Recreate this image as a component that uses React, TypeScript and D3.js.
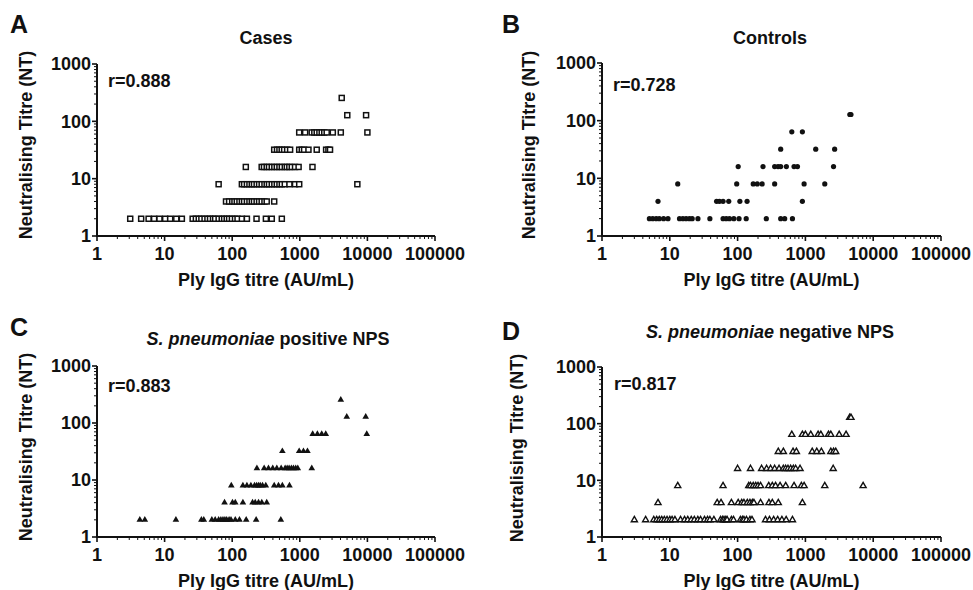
import React from "react";
import * as d3 from "d3";

// ---- data (Ply IgG titre AU/mL, Neutralising titre) ----
const xTickLabels = ["1", "10", "100", "1000", "10000", "100000"];
const yTickLabels = ["1", "10", "100", "1000"];

const casesPoints: [number, number][] = [
  ...[3.1, 4.5, 5.8, 7.0, 8.4, 10.2, 12.1, 14.9, 18, 26, 29, 32, 35, 39, 43, 47, 52, 56, 63, 70, 76, 83, 90, 99, 110, 120, 139, 165, 229, 315, 385, 542].map((x) => [x, 2] as [number, number]),
  ...[81, 90, 100, 108, 117, 128, 139, 150, 165, 180, 195, 210, 230, 250, 273, 300, 324, 418].map((x) => [x, 4] as [number, number]),
  ...[63, 139, 150, 165, 180, 195, 210, 230, 250, 273, 300, 324, 350, 385, 420, 457, 500, 542, 600, 703, 850, 980, 7100].map((x) => [x, 8] as [number, number]),
  ...[159, 273, 295, 324, 350, 385, 420, 457, 500, 542, 600, 643, 700, 761, 850, 960, 1540].map((x) => [x, 16] as [number, number]),
  ...[418, 460, 500, 540, 587, 650, 719, 980, 1070, 1158, 1343, 1780, 2450, 2650, 2800].map((x) => [x, 32] as [number, number]),
  ...[980, 1200, 1500, 1640, 1780, 1950, 2110, 2300, 2500, 3080, 4040, 10000].map((x) => [x, 64] as [number, number]),
  [5040, 128], [9560, 128],
  [4170, 256],
];

const controlsPoints: [number, number][] = [
  ...[5.0, 5.6, 6.3, 7.0, 8.1, 9.4, 13.9, 15.6, 17.4, 19.5, 21.4, 26, 39, 61, 68, 76, 88, 105, 134, 265, 432, 495, 644].map((x) => [x, 2] as [number, number]),
  ...[6.7, 49, 54, 61, 74, 108, 138, 903].map((x) => [x, 4] as [number, number]),
  ...[13.1, 97, 170, 195, 230, 352, 957, 1930].map((x) => [x, 8] as [number, number]),
  ...[102, 237, 352, 395, 432, 524, 680, 764, 2600].map((x) => [x, 16] as [number, number]),
  ...[432, 1420, 2700].map((x) => [x, 32] as [number, number]),
  ...[630, 903].map((x) => [x, 64] as [number, number]),
  [4520, 128], [4700, 128],
];

const positivePoints: [number, number][] = [
  ...[4.3, 5.1, 14.7, 35, 38, 50, 56, 63, 68, 73, 78, 83, 90, 96, 111, 128, 161, 226, 524].map((x) => [x, 2] as [number, number]),
  ...[77, 101, 111, 144, 200, 219, 245, 274, 324].map((x) => [x, 4] as [number, number]),
  ...[97, 144, 165, 189, 214, 230, 245, 260, 281, 314, 418, 484, 552, 703].map((x) => [x, 8] as [number, number]),
  ...[232, 297, 344, 398, 457, 530, 607, 650, 695, 750, 805, 870, 933, 1503].map((x) => [x, 16] as [number, number]),
  ...[552, 979, 1132, 1298].map((x) => [x, 32] as [number, number]),
  ...[1550, 1820, 2110, 2420, 9780].map((x) => [x, 64] as [number, number]),
  [4950, 128], [9440, 128],
  [4040, 256],
];

const negativePoints: [number, number][] = [
  ...[3.0, 4.4, 5.8, 6.4, 7.0, 7.6, 8.3, 9.1, 10.0, 10.8, 11.9, 14.4, 16.5, 18.4, 20.7, 23, 25.9, 28.4, 32.5, 36, 39, 44.7, 56, 60, 63, 67, 70, 81, 87, 110, 118, 124, 135, 152, 163, 258, 295, 340, 390, 450, 520, 644].map((x) => [x, 2] as [number, number]),
  ...[6.7, 50, 57, 81, 102, 115, 124, 139, 152, 165, 174, 218, 290, 325, 398, 903].map((x) => [x, 4] as [number, number]),
  ...[13.1, 61, 146, 155, 170, 185, 200, 218, 288, 325, 363, 423, 512, 680, 872, 957, 1930, 7100].map((x) => [x, 8] as [number, number]),
  ...[100, 155, 226, 268, 307, 352, 409, 473, 512, 554, 607, 665, 719, 834, 2570].map((x) => [x, 16] as [number, number]),
  ...[398, 473, 657, 736, 1260, 1470, 1720, 2370, 2600, 2800].map((x) => [x, 32] as [number, number]),
  ...[630, 903, 1000, 1200, 1540, 1690, 2190, 2370, 3150, 3980].map((x) => [x, 64] as [number, number]),
  [4500, 128], [4700, 128],
];

const FONT = "'Liberation Sans', Arial, Helvetica, sans-serif";
const INK = "#111";

type MarkerKind = "openSquare" | "dot" | "triangle" | "openTriangle";

interface PanelProps {
  letter: string;
  letterX: number;
  letterY: number;
  title: React.ReactNode;
  titleX: number;
  titleY: number;
  r: string;
  rX: number;
  rY: number;
  left: number;
  right: number;
  top: number;
  bottom: number;
  yTitleX: number;
  yTitleY: number;
  points: [number, number][];
  marker: MarkerKind;
}

function Panel(p: PanelProps) {
  const x = d3.scaleLog().domain([1, 100000]).range([p.left, p.right]);
  const y = d3.scaleLog().domain([1, 1000]).range([p.bottom, p.top]);
  const xMajor = xTickLabels.map(Number);
  const yMajor = yTickLabels.map(Number);
  const xMinor: number[] = [];
  xMajor.slice(0, -1).forEach((d) => { for (let k = 2; k <= 9; k++) xMinor.push(d * k); });
  const yMinor: number[] = [];
  yMajor.slice(0, -1).forEach((d) => { for (let k = 2; k <= 9; k++) yMinor.push(d * k); });

  const tri = d3.symbol().type(d3.symbolTriangle).size(19)() as string;
  const openTri = d3.symbol().type(d3.symbolTriangle).size(16)() as string;

  const renderMarker = (d: [number, number], i: number) => {
    const cx = x(d[0]);
    const cy = y(d[1]);
    switch (p.marker) {
      case "openSquare":
        return <rect key={i} x={cx - 2.5} y={cy - 2.5} width={5} height={5} fill="#fff" stroke={INK} strokeWidth={1.5} />;
      case "dot":
        return <circle key={i} cx={cx} cy={cy} r={2.6} fill={INK} />;
      case "triangle":
        return <path key={i} d={tri} transform={`translate(${cx},${cy})`} fill={INK} />;
      default:
        return <path key={i} d={openTri} transform={`translate(${cx},${cy})`} fill="#fff" stroke={INK} strokeWidth={1.4} />;
    }
  };

  return (
    <g fontFamily={FONT} fontWeight="bold" fill={INK}>
      <text x={p.letterX} y={p.letterY} fontSize={25}>{p.letter}</text>
      <text x={p.titleX} y={p.titleY} fontSize={18} textAnchor="middle">{p.title}</text>
      <text
        transform={`translate(${p.yTitleX},${p.yTitleY}) rotate(-90)`}
        fontSize={18}
        textAnchor="middle"
      >
        Neutralising Titre (NT)
      </text>
      <text x={(p.left + p.right) / 2} y={p.bottom + 50} fontSize={18} textAnchor="middle">
        Ply IgG titre (AU/mL)
      </text>
      <text x={p.rX} y={p.rY} fontSize={18}>{p.r}</text>

      {/* axes */}
      <g stroke={INK} fill="none">
        <line x1={p.left} x2={p.left} y1={p.top} y2={p.bottom + 1} strokeWidth={2} />
        <line x1={p.left - 1} x2={p.right} y1={p.bottom} y2={p.bottom} strokeWidth={2} />
        {yMajor.map((d) => (
          <line key={"ym" + d} x1={p.left - 5} x2={p.left} y1={y(d)} y2={y(d)} strokeWidth={1.6} />
        ))}
        {yMinor.map((d) => (
          <line key={"yn" + d} x1={p.left - 3} x2={p.left} y1={y(d)} y2={y(d)} strokeWidth={1} />
        ))}
        {xMajor.map((d) => (
          <line key={"xm" + d} x1={x(d)} x2={x(d)} y1={p.bottom} y2={p.bottom + 5} strokeWidth={1.6} />
        ))}
        {xMinor.map((d) => (
          <line key={"xn" + d} x1={x(d)} x2={x(d)} y1={p.bottom} y2={p.bottom + 3} strokeWidth={1} />
        ))}
      </g>
      {yTickLabels.map((t) => (
        <text key={"yl" + t} x={p.left - 6} y={y(+t)} dy="0.36em" fontSize={18} textAnchor="end">{t}</text>
      ))}
      {xTickLabels.map((t) => (
        <text key={"xl" + t} x={x(+t)} y={p.bottom + 24} fontSize={18} textAnchor="middle">{t}</text>
      ))}

      <g>{p.points.map(renderMarker)}</g>
    </g>
  );
}

export default function App() {
  return (
    <svg
      width={973}
      height={590}
      viewBox="0 0 973 590"
      style={{ position: "absolute", left: 0, top: 0, background: "#fff" }}
    >
      <rect width={973} height={590} fill="#fff" />
      <Panel
        letter="A" letterX={10} letterY={33}
        title="Cases" titleX={266} titleY={44}
        r="r=0.888" rX={108} rY={87}
        left={97} right={435} top={64} bottom={236}
        yTitleX={32} yTitleY={145}
        points={casesPoints} marker="openSquare"
      />
      <Panel
        letter="B" letterX={502} letterY={33}
        title="Controls" titleX={770} titleY={44}
        r="r=0.728" rX={613} rY={91}
        left={602} right={941} top={63} bottom={236}
        yTitleX={535} yTitleY={145}
        points={controlsPoints} marker="dot"
      />
      <Panel
        letter="C" letterX={10} letterY={336}
        title={<><tspan fontStyle="italic">S. pneumoniae</tspan> positive NPS</>} titleX={268} titleY={345}
        r="r=0.883" rX={108} rY={392}
        left={97} right={435} top={366} bottom={537}
        yTitleX={32} yTitleY={447}
        points={positivePoints} marker="triangle"
      />
      <Panel
        letter="D" letterX={502} letterY={340}
        title={<><tspan fontStyle="italic">S. pneumoniae</tspan> negative NPS</>} titleX={770} titleY={338}
        r="r=0.817" rX={614} rY={390}
        left={602} right={941} top={367} bottom={537}
        yTitleX={523} yTitleY={448}
        points={negativePoints} marker="openTriangle"
      />
    </svg>
  );
}
